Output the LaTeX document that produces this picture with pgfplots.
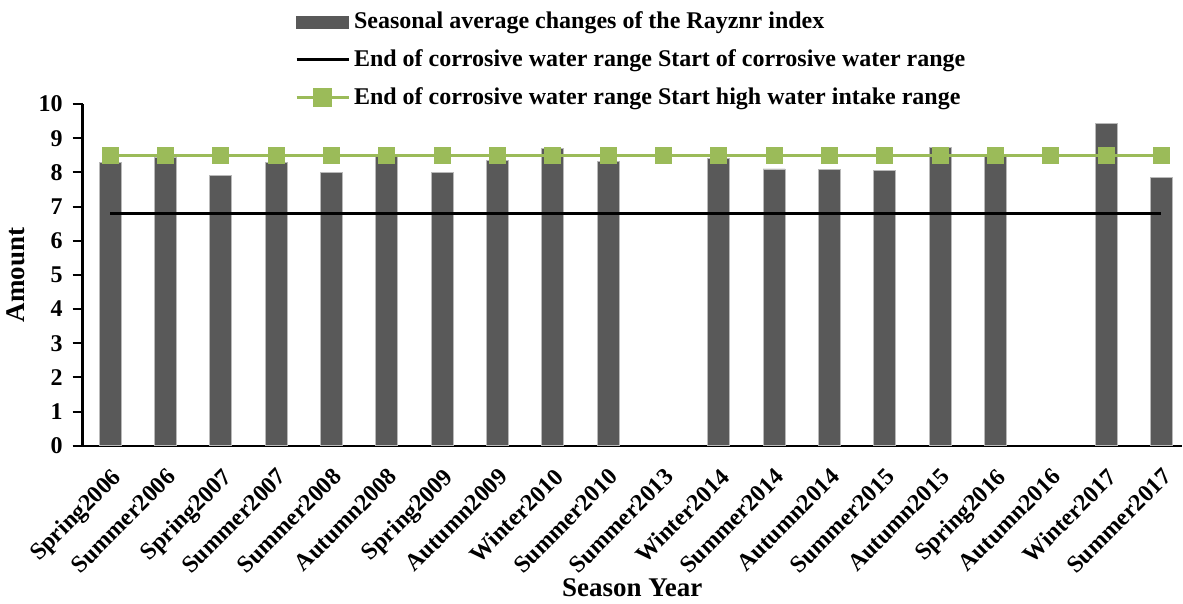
\documentclass[border=0pt]{standalone}
\usepackage{pgfplots}
\pgfplotsset{compat=1.18}
\usepackage{fontspec}
\setmainfont{Liberation Serif}
\definecolor{barc}{HTML}{595959}
\definecolor{grn}{HTML}{9BBB59}
\begin{document}
\begin{tikzpicture}
\begin{axis}[
  scale only axis,
  width=550pt, height=171pt,
  xmin=-0.5, xmax=19.37, ymin=0, ymax=10,
  axis x line=bottom, axis y line=left,
  axis line style={line width=1.2pt,-},
  tick align=outside,
  ytick={0,...,10},
  xtick={0,...,19},
  xtick style={draw=none},
  minor xtick={-0.5,0.5,...,18.5},
  minor x tick style={line width=1pt, black},
  minor tick length=5pt,
  ytick style={line width=1pt, black},
  major tick length=5pt,
  xticklabels={Spring2006,Summer2006,Spring2007,Summer2007,Summer2008,Autumn2008,Spring2009,Autumn2009,Winter2010,Summer2010,Summer2013,Winter2014,Summer2014,Autumn2014,Summer2015,Autumn2015,Spring2016,Autumn2016,Winter2017,Summer2017},
  x tick label style={rotate=45, anchor=north east, inner sep=1pt, font=\fontsize{12}{14}\selectfont\bfseries},
  xticklabel shift=4pt,
  yticklabel shift=1.5pt,
  y tick label style={font=\fontsize{12}{14}\selectfont\bfseries},
  /pgf/number format/assume math mode=true,
  xlabel={Season Year}, ylabel={Amount},
  label style={font=\fontsize{13.5}{16}\selectfont\bfseries},
  xlabel style={yshift=3pt},
  ylabel style={yshift=0pt},
  legend style={at={(0.5,1)}, anchor=south, yshift=-8pt, draw=none, fill=none,
    inner ysep=4pt,
    font=\fontsize{12}{14}\selectfont\bfseries, row sep=5pt,
    legend cell align=left},
  legend cell align=left,
]
\addplot[ybar, bar width=11pt, fill=barc, draw={rgb,255:red,185;green,185;blue,185}, line width=0.4pt,
  area legend,
  legend image code/.code={\fill[barc] (0pt,-3pt) rectangle (26pt,3pt);}]
  coordinates {(0,8.30) (1,8.45) (2,7.90) (3,8.30) (4,8.01) (5,8.47) (6,7.99) (7,8.34) (8,8.69) (9,8.32)
  (11,8.42) (12,8.10) (13,8.09) (14,8.06) (15,8.73) (16,8.52) (18,9.43) (19,7.84)};
\addlegendentry{Seasonal average changes of the Rayznr index}
\addplot[black, line width=1.5pt, no markers,
  legend image code/.code={\draw[black, line width=1.5pt] (0pt,0pt) -- (26pt,0pt);}]
  coordinates {(0,6.8) (1,6.8) (2,6.8) (3,6.8) (4,6.8) (5,6.8) (6,6.8) (7,6.8) (8,6.8) (9,6.8) (10,6.8)
  (11,6.8) (12,6.8) (13,6.8) (14,6.8) (15,6.8) (16,6.8) (17,6.8) (18,6.8) (19,6.8)};
\addlegendentry{End of corrosive water range Start of corrosive water range}
\addplot[grn, line width=1.5pt, mark=square*, mark size=4pt, mark options={fill=grn, draw=grn, line width=0.5pt},
  legend image code/.code={\draw[grn, line width=1.5pt] (0pt,0pt) -- (26pt,0pt); \fill[grn] (9pt,-4pt) rectangle (17pt,4pt);}]
  coordinates {(0,8.5) (1,8.5) (2,8.5) (3,8.5) (4,8.5) (5,8.5) (6,8.5) (7,8.5) (8,8.5) (9,8.5) (10,8.5)
  (11,8.5) (12,8.5) (13,8.5) (14,8.5) (15,8.5) (16,8.5) (17,8.5) (18,8.5) (19,8.5)};
\addlegendentry{End of corrosive water range Start high water intake range}
\end{axis}
\end{tikzpicture}
\end{document}
